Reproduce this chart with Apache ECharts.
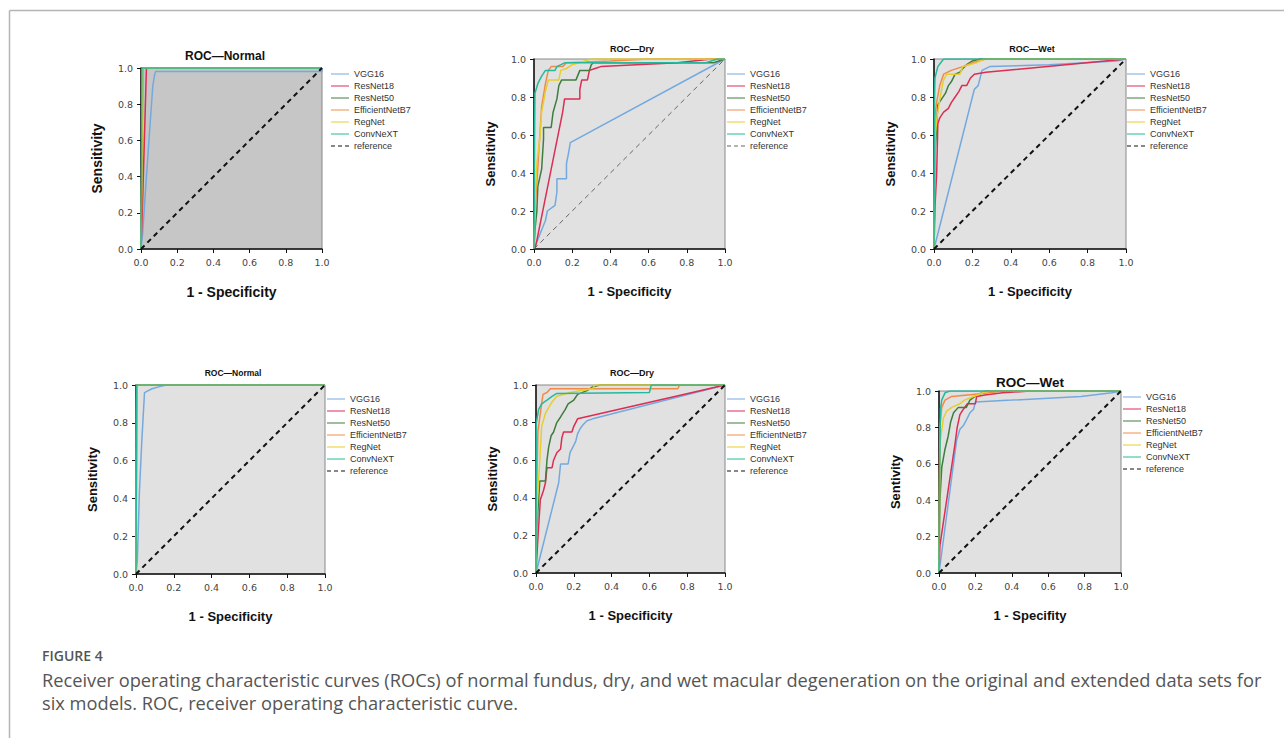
<!DOCTYPE html>
<html>
<head>
<meta charset="utf-8">
<script src="https://cdn.jsdelivr.net/npm/echarts@6/dist/echarts.min.js"></script>
<style>
  html, body { margin: 0; padding: 0; background: #fff; }
  #main { width: 1284px; height: 738px; }
</style>
</head>
<body>
<div id="main"></div>
<script>
// model order used by every curve list below
var models = ['VGG16', 'ResNet18', 'ResNet50', 'EfficientNetB7', 'RegNet', 'ConvNeXT'];
var modelColors = ['#74a9e0', '#dc2d52', '#3f7d3f', '#f08a4b', '#e6cf2c', '#25b99b'];
var referenceLine = [[0, 0], [1, 1]];

var panelTitles = ['ROC\u2014Normal', 'ROC\u2014Dry', 'ROC\u2014Wet', 'ROC\u2014Normal', 'ROC\u2014Dry', 'ROC\u2014Wet'];
var yNames = ['Sensitivity', 'Sensitivity', 'Sensitivity', 'Sensitivity', 'Sensitivity', 'Sentivity'];
var xNames = ['1 - Specificity', '1 - Specificity', '1 - Specificity', '1 - Specificity', '1 - Specificity', '1 - Specifity'];

// [fpr, tpr] points, one list per model (order = models)
var topNormal = [
    [[0,0],[0.01,0.1],[0.03,0.4],[0.065,0.9],[0.075,0.96],[0.08,0.98],[1,0.98],[1,1]],
    [[0,0],[0.01,0.3],[0.03,1],[1,1]],
    [[0,0],[0.01,1],[1,1]],
    [[0,0],[0.008,1],[1,1]],
    [[0,0],[0.01,1],[1,1]],
    [[0,0],[0.005,1],[1,1]]
];
var topDry = [
    [[0,0],[0.02,0.05],[0.04,0.1],[0.06,0.15],[0.07,0.2],[0.11,0.23],[0.12,0.3],[0.12,0.37],[0.17,0.37],[0.17,0.45],[0.18,0.5],[0.19,0.56],[1,1]],
    [[0,0],[0.01,0.02],[0.15,0.72],[0.16,0.79],[0.24,0.79],[0.24,0.84],[0.25,0.89],[0.28,0.89],[0.29,0.94],[0.32,0.95],[0.35,0.96],[0.75,0.98],[0.93,1],[1,1]],
    [[0,0],[0.005,0.1],[0.015,0.2],[0.02,0.33],[0.04,0.42],[0.05,0.58],[0.05,0.64],[0.09,0.64],[0.1,0.72],[0.12,0.79],[0.13,0.86],[0.145,0.89],[0.22,0.89],[0.24,0.94],[0.29,0.94],[0.3,0.97],[0.31,0.98],[0.94,0.98],[1,1]],
    [[0,0],[0.005,0.2],[0.015,0.35],[0.03,0.59],[0.04,0.75],[0.06,0.87],[0.075,0.94],[0.09,0.96],[0.15,0.96],[0.17,0.98],[0.4,0.99],[0.6,1],[1,1]],
    [[0,0],[0.005,0.25],[0.015,0.45],[0.03,0.58],[0.04,0.72],[0.06,0.83],[0.075,0.89],[0.13,0.89],[0.14,0.94],[0.17,0.95],[0.2,0.97],[0.3,1],[1,1]],
    [[0,0],[0.003,0.6],[0.005,0.82],[0.02,0.87],[0.04,0.91],[0.06,0.94],[0.11,0.94],[0.12,0.96],[0.16,0.98],[0.9,0.98],[0.96,1],[1,1]]
];
var topWet = [
    [[0,0],[0.2,0.8],[0.21,0.84],[0.23,0.86],[0.24,0.9],[0.25,0.94],[0.29,0.96],[0.6,0.97],[0.95,0.99],[1,1]],
    [[0,0],[0.005,0.22],[0.014,0.4],[0.02,0.66],[0.03,0.69],[0.05,0.72],[0.075,0.74],[0.09,0.77],[0.11,0.8],[0.13,0.83],[0.145,0.86],[0.17,0.86],[0.19,0.9],[0.21,0.92],[0.27,0.93],[1,1]],
    [[0,0],[0.003,0.3],[0.005,0.5],[0.014,0.66],[0.02,0.76],[0.04,0.79],[0.06,0.82],[0.075,0.86],[0.09,0.88],[0.11,0.92],[0.135,0.93],[0.15,0.95],[0.17,0.97],[0.2,0.99],[0.24,1],[1,1]],
    [[0,0],[0.005,0.7],[0.015,0.78],[0.03,0.86],[0.05,0.92],[0.09,0.94],[0.15,0.96],[0.2,0.98],[0.27,1],[1,1]],
    [[0,0],[0.005,0.58],[0.014,0.68],[0.03,0.79],[0.05,0.89],[0.066,0.92],[0.135,0.92],[0.15,0.96],[0.22,0.98],[0.26,1],[1,1]],
    [[0,0],[0.003,0.8],[0.005,0.9],[0.02,0.96],[0.035,0.98],[0.05,1],[1,1]]
];
var bottomNormal = [
    [[0,0],[0.007,0.07],[0.018,0.43],[0.03,0.69],[0.045,0.96],[0.065,0.97],[0.085,0.98],[0.12,0.99],[0.16,1],[1,1]],
    [[0,0],[0.004,1],[1,1]],
    [[0,0],[0.002,1],[1,1]],
    [[0,0],[0.004,1],[1,1]],
    [[0,0],[0.004,1],[1,1]],
    [[0,0],[0.003,1],[1,1]]
];
var bottomDry = [
    [[0,0],[0.12,0.48],[0.13,0.58],[0.17,0.58],[0.18,0.64],[0.195,0.67],[0.21,0.7],[0.22,0.74],[0.235,0.77],[0.25,0.79],[0.27,0.81],[0.3,0.82],[1,1]],
    [[0,0],[0.005,0.1],[0.014,0.25],[0.023,0.39],[0.04,0.44],[0.05,0.48],[0.058,0.56],[0.085,0.56],[0.093,0.6],[0.11,0.64],[0.13,0.66],[0.137,0.72],[0.146,0.75],[0.19,0.75],[0.2,0.78],[0.22,0.82],[1,1]],
    [[0,0],[0.005,0.25],[0.02,0.49],[0.05,0.49],[0.058,0.6],[0.067,0.67],[0.08,0.73],[0.093,0.75],[0.11,0.8],[0.13,0.83],[0.155,0.87],[0.17,0.9],[0.2,0.92],[0.22,0.95],[0.27,0.97],[0.3,0.99],[0.34,1],[1,1]],
    [[0,0],[0.003,0.4],[0.01,0.75],[0.023,0.85],[0.037,0.95],[0.058,0.96],[0.076,0.98],[0.75,0.98],[0.76,1],[1,1]],
    [[0,0],[0.005,0.34],[0.02,0.6],[0.03,0.78],[0.05,0.85],[0.067,0.88],[0.085,0.91],[0.11,0.94],[0.18,0.96],[0.23,0.97],[0.3,0.98],[0.31,1],[1,1]],
    [[0,0],[0.002,0.8],[0.014,0.87],[0.03,0.9],[0.058,0.92],[0.085,0.94],[0.11,0.955],[0.6,0.96],[0.61,1],[1,1]]
];
var bottomWet = [
    [[0,0],[0.097,0.73],[0.115,0.79],[0.134,0.81],[0.15,0.84],[0.17,0.88],[0.19,0.9],[0.2,0.94],[0.4,0.95],[0.78,0.97],[0.95,0.99],[1,1]],
    [[0,0],[0.005,0.15],[0.088,0.71],[0.1,0.8],[0.115,0.87],[0.134,0.9],[0.156,0.93],[0.2,0.93],[0.207,0.97],[0.26,0.98],[0.35,0.99],[0.5,1],[1,1]],
    [[0,0],[0.002,0.2],[0.005,0.4],[0.015,0.58],[0.033,0.68],[0.05,0.75],[0.064,0.83],[0.08,0.88],[0.106,0.91],[0.15,0.91],[0.17,0.95],[0.21,0.98],[0.26,1],[1,1]],
    [[0,0],[0.003,0.6],[0.005,0.8],[0.015,0.91],[0.033,0.95],[0.07,0.97],[0.23,0.985],[0.35,1],[1,1]],
    [[0,0],[0.005,0.71],[0.024,0.85],[0.042,0.89],[0.07,0.91],[0.115,0.93],[0.14,0.95],[0.19,0.97],[0.24,0.99],[0.28,1],[1,1]],
    [[0,0],[0.003,0.5],[0.008,0.9],[0.015,0.95],[0.033,0.99],[0.06,1],[1,1]]
];
var panelCurves = [topNormal, topDry, topWet, bottomNormal, bottomDry, bottomWet];

// layout of the six plots (pixels)
var panels = [
    { left: 141, top: 68, width: 181, height: 181, bg: '#c6c6c6', titleX: 225, titleY: 56, titleSize: 12, nameSize: 14, legendX: 331, legendY: 68, refColor: '#111', refWidth: 2 },
    { left: 534, top: 59, width: 191, height: 190, bg: '#e1e1e1', titleX: 632, titleY: 49, titleSize: 9, nameSize: 13, legendX: 727, legendY: 68, refColor: '#666', refWidth: 1 },
    { left: 934, top: 59, width: 192, height: 190, bg: '#e1e1e1', titleX: 1032, titleY: 49, titleSize: 9, nameSize: 13, legendX: 1127, legendY: 68, refColor: '#111', refWidth: 2 },
    { left: 136, top: 385, width: 189, height: 189, bg: '#e1e1e1', titleX: 233, titleY: 373, titleSize: 8.5, nameSize: 13, legendX: 327, legendY: 393, refColor: '#111', refWidth: 2 },
    { left: 536, top: 385, width: 189, height: 188, bg: '#e1e1e1', titleX: 632, titleY: 373, titleSize: 9, nameSize: 13, legendX: 727, legendY: 393, refColor: '#111', refWidth: 2 },
    { left: 939, top: 391, width: 182, height: 182, bg: '#e1e1e1', titleX: 1030, titleY: 382, titleSize: 13.5, nameSize: 13, legendX: 1123, legendY: 391, refColor: '#111', refWidth: 2 }
];

// legend glyphs: a plain stroke and a dashed stroke
var solidIcon = 'path://M0,0H18V1H0Z';
var dashedIcon = 'path://M0,0H4V1H0Z M7,0H11V1H7Z M14,0H18V1H14Z';

var chart = echarts.init(document.getElementById('main'), null, { renderer: 'svg' });

var grids = [], xAxes = [], yAxes = [], series = [], legends = [], graphics = [];

panels.forEach(function (p, i) {
    grids.push({
        left: p.left, top: p.top, width: p.width, height: p.height,
        show: true, backgroundColor: p.bg, borderColor: '#888', borderWidth: 1
    });
    var axisCommon = {
        type: 'value', min: 0, max: 1, interval: 0.2, gridIndex: i,
        nameLocation: 'middle',
        nameTextStyle: { fontFamily: 'Liberation Sans', fontWeight: 'bold', fontSize: p.nameSize, color: '#111' },
        axisLine: { show: true, onZero: false, lineStyle: { color: '#111', width: 1.5 } },
        axisTick: { show: true, inside: false, length: 4, lineStyle: { color: '#111' } },
        axisLabel: {
            fontFamily: 'DejaVu Sans', fontSize: 9.5, color: '#444', margin: 8,
            formatter: function (v) { return v.toFixed(1); }
        },
        splitLine: { show: false }
    };
    xAxes.push(Object.assign({}, axisCommon, { name: xNames[i], nameGap: 36 }));
    yAxes.push(Object.assign({}, axisCommon, { name: yNames[i], nameGap: 37 }));

    panelCurves[i].forEach(function (pts, m) {
        series.push({
            name: models[m], type: 'line', xAxisIndex: i, yAxisIndex: i,
            data: pts, symbol: 'none', silent: true,
            lineStyle: { color: modelColors[m], width: 1.5 },
            itemStyle: { color: modelColors[m] }
        });
    });
    series.push({
        name: 'reference', type: 'line', xAxisIndex: i, yAxisIndex: i,
        data: referenceLine, symbol: 'none', silent: true,
        lineStyle: { color: p.refColor, width: p.refWidth, type: [5, 4] },
        itemStyle: { color: p.refColor }
    });

    var legendData = models.map(function (name, m) {
        return { name: name, icon: solidIcon, itemStyle: { color: modelColors[m], borderWidth: 0 } };
    });
    legendData.push({ name: 'reference', icon: dashedIcon, itemStyle: { color: p.refColor, borderWidth: 0 } });
    legends.push({
        left: p.legendX, top: p.legendY, orient: 'vertical', padding: 0,
        itemWidth: 18, itemHeight: p.refWidth === 1 ? 1.5 : 2, itemGap: 0, selectedMode: false,
        textStyle: { fontFamily: 'Liberation Sans', fontSize: 9, color: '#333', lineHeight: 12 },
        data: legendData
    });

    graphics.push({
        type: 'text', x: p.titleX, y: p.titleY,
        style: {
            text: panelTitles[i], fill: '#111', align: 'center', verticalAlign: 'middle',
            font: 'bold ' + p.titleSize + 'px "Liberation Sans"'
        }
    });
});

// page frame and caption
graphics.push({ type: 'line', shape: { x1: 9.5, y1: 10.5, x2: 1284, y2: 10.5 }, style: { stroke: '#b5b5b5', lineWidth: 1.5 } });
graphics.push({ type: 'line', shape: { x1: 9.5, y1: 10.5, x2: 9.5, y2: 738 }, style: { stroke: '#b5b5b5', lineWidth: 1.5 } });
graphics.push({
    type: 'text', x: 42, y: 655,
    style: { text: 'FIGURE 4', fill: '#555', verticalAlign: 'middle', font: '600 14px "Open Sans"' }
});
graphics.push({
    type: 'text', x: 42, y: 668,
    style: {
        text: 'Receiver operating characteristic curves (ROCs) of normal fundus, dry, and wet macular degeneration on the original and extended data sets for\nsix models. ROC, receiver operating characteristic curve.',
        fill: '#555', lineHeight: 23, font: '18.25px "Open Sans"'
    }
});

var option = {
    animation: false,
    backgroundColor: '#fff',
    grid: grids,
    xAxis: xAxes,
    yAxis: yAxes,
    legend: legends,
    series: series,
    graphic: graphics
};

chart.setOption(option);
</script>
</body>
</html>
